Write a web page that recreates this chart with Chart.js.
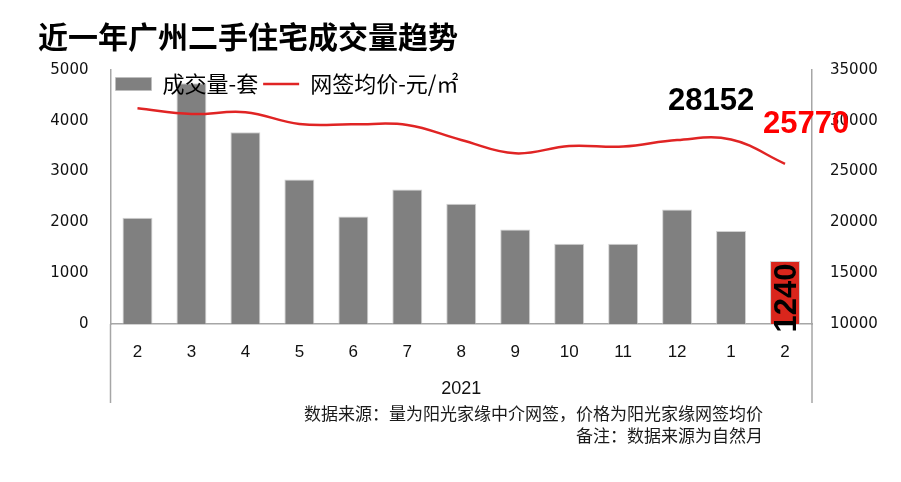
<!DOCTYPE html>
<html>
<head>
<meta charset="utf-8">
<script src="https://cdn.jsdelivr.net/npm/chart.js@4.4.1/dist/chart.umd.min.js"></script>
<style>
  html, body { margin:0; padding:0; background:#fff; }
  #wrap { position:relative; width:901px; height:482px; }
  #note { position:absolute; right:138px; top:402px; text-align:right;
          font:17px/22px "Noto Sans CJK SC"; color:#1a1a1a; white-space:nowrap; }
</style>
</head>
<body>
<div id="wrap">
  <canvas id="chart" width="901" height="482"></canvas>
  <div id="note">数据来源：量为阳光家缘中介网签，价格为阳光家缘网签均价<br>备注：数据来源为自然月</div>
</div>
<script>
// ---- data ----
const TITLE = "近一年广州二手住宅成交量趋势";
const YEAR_LABEL = "2021";
const months = ["2","3","4","5","6","7","8","9","10","11","12","1","2"];
const volume = [2090, 4740, 3775, 2845, 2115, 2650, 2365, 1860, 1580, 1580, 2255, 1830, 1240];
const price  = [31230, 30670, 30840, 29690, 29650, 29590, 28110, 26800, 27520, 27460, 28110, 28152, 25770];
const volTicks   = { min:0, max:5000, step:1000 };
const priceTicks = { min:10000, max:35000, step:5000 };

const GRAY = "#808080";
const RED_BAR = "#d9261c";
const LINE_RED = "#e02424";
const AXIS = "#a6a6a6";
const CJK = '"Noto Sans CJK SC"';

const barColors = volume.map((v, i) => i === volume.length - 1 ? RED_BAR : GRAY);

// legend sits inside the plot, drawn over the bars
const legendInside = {
  id:"legendInside",
  beforeLayout(chart){
    const lg = chart.legend;
    if(lg) lg._layers = () => [{ z:1, draw:(area) => lg.draw(area) }];
  },
  afterLayout(chart){
    const lg = chart.legend, a = chart.chartArea;
    if(!lg) return;
    lg.left = a.left; lg.right = a.right; lg.width = a.right - a.left;
    lg.top = a.top - 2; lg.height = 36; lg.bottom = lg.top + lg.height;
  }
};

// axis lines running down past the month labels, plus the value callouts
const extras = {
  id:"extras",
  afterDraw(chart){
    const ctx = chart.ctx, a = chart.chartArea;
    ctx.save();
    ctx.strokeStyle = AXIS; ctx.lineWidth = 1.5;
    ctx.beginPath();
    [a.left, a.right].forEach(x => { ctx.moveTo(x, a.bottom); ctx.lineTo(x, a.bottom + 79); });
    ctx.stroke();

    const pts = chart.getDatasetMeta(1).data;
    const bars = chart.getDatasetMeta(0).data;
    const n = months.length;
    ctx.font = 'bold 31px "Liberation Sans"';
    ctx.textAlign = "center"; ctx.textBaseline = "middle";

    ctx.fillStyle = "#000";
    ctx.fillText(String(price[n - 2]), pts[n - 2].x - 20, pts[n - 2].y - 38);
    ctx.fillStyle = "#fe0000";
    ctx.fillText(String(price[n - 1]), pts[n - 1].x + 21, pts[n - 1].y - 39);

    const b = bars[n - 1];
    ctx.translate(b.x + 2, b.base - 26);
    ctx.rotate(-Math.PI / 2);
    ctx.fillStyle = "#000";
    ctx.fillText(String(volume[n - 1]), 0, 0);
    ctx.restore();
  }
};

new Chart(document.getElementById("chart").getContext("2d"), {
  data:{
    labels:months,
    datasets:[
      { type:"bar", label:"成交量-套", data:volume, yAxisID:"y", order:1,
        backgroundColor:barColors, borderColor:"rgba(190,190,190,.7)", borderWidth:1,
        barPercentage:0.555, categoryPercentage:1, pointStyle:"rect" },
      { type:"line", label:"网签均价-元/㎡", data:price, yAxisID:"y1", order:0,
        borderColor:LINE_RED, backgroundColor:LINE_RED, borderWidth:2.5,
        tension:0.4, pointRadius:0, pointStyle:"line", fill:false }
    ]
  },
  options:{
    responsive:false,
    animation:false,
    events:[],
    layout:{ padding:{ left:38, right:0, top:0, bottom:0 } },
    plugins:{
      title:{ display:true, text:TITLE, align:"start", color:"#000",
              font:{ family:CJK, size:30, weight:"bold" }, padding:{ top:19, bottom:14 } },
      legend:{ display:true, position:"top", align:"start", fullSize:false, maxHeight:1,
               labels:{ usePointStyle:true, pointStyleWidth:36, boxHeight:13, padding:5, color:"#000",
                        font:{ family:CJK, size:22 }, sort:(p, q) => p.datasetIndex - q.datasetIndex } },
      tooltip:{ enabled:false }
    },
    scales:{
      x:{ type:"category", offset:true,
          grid:{ display:false, drawTicks:false },
          border:{ display:true, color:AXIS, width:1.5 },
          ticks:{ color:"#111", padding:18, autoSkip:false, maxRotation:0,
                  font:{ family:'"Liberation Sans"', size:17 } },
          title:{ display:true, text:YEAR_LABEL, color:"#111", padding:{ top:0, bottom:82 },
                  font:{ family:'"Liberation Sans"', size:18 } },
          afterFit:s => { s.height = 158; } },
      y:{ position:"left", min:volTicks.min, max:volTicks.max,
          grid:{ display:false, drawTicks:false },
          border:{ display:true, color:AXIS, width:1.5 },
          ticks:{ stepSize:volTicks.step, color:"#111", padding:22, callback:v => String(v),
                  font:{ family:'"DejaVu Sans"', size:15 } },
          afterFit:s => { s.width = 72.5; } },
      y1:{ position:"right", min:priceTicks.min, max:priceTicks.max,
           grid:{ display:false, drawTicks:false },
           border:{ display:true, color:AXIS, width:1.5 },
           ticks:{ stepSize:priceTicks.step, color:"#111", padding:18, callback:v => String(v),
                   font:{ family:'"DejaVu Sans"', size:15 } },
           afterFit:s => { s.width = 89; } }
    }
  },
  plugins:[legendInside, extras]
});
</script>
</body>
</html>
